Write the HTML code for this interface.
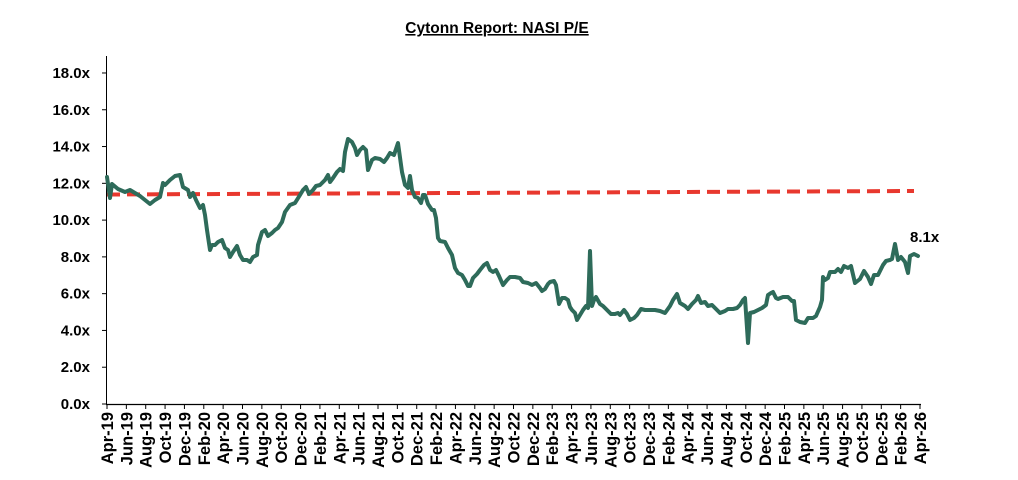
<!DOCTYPE html>
<html><head><meta charset="utf-8"><style>
html,body{margin:0;padding:0;background:#fff;}
svg{display:block;font-family:"Liberation Sans",sans-serif;font-weight:bold;}
</style></head><body>
<svg width="1018" height="480" viewBox="0 0 1018 480" xmlns="http://www.w3.org/2000/svg">
<text x="497" y="33" text-anchor="middle" font-size="15.5" text-decoration="underline">Cytonn Report: NASI P/E</text>
<line x1="106.5" y1="56" x2="106.5" y2="405" stroke="#000" stroke-width="1"/>
<line x1="106" y1="404.5" x2="921" y2="404.5" stroke="#000" stroke-width="1.2"/>
<g font-size="15" text-anchor="end" id="yl"></g>
<g id="yt" stroke="#000"></g>
<g id="xt" stroke="#000"></g>
<g id="xl" font-size="16.5"></g>
<line x1="107" y1="194.5" x2="914" y2="191" stroke="#e8382e" stroke-width="4" stroke-dasharray="13,7"/>
<polyline id="ln" fill="none" stroke="#2e6b5a" stroke-width="4" stroke-linejoin="round" stroke-linecap="round" points="107,177 110,198 112,184 118,189 125,192 130,190 135,193 140,196 145,200 150,204 155,200 160,197 163,183 165,185 170,180 175,176 180,175 183,187 188,190 190,197 193,193 196,200 200,208 203,205 205,215 207,230 210,250 212,245 215,245 218,242 222,240 225,248 228,250 230,257 233,252 237,246 240,255 243,260 247,260 250,262 253,257 257,255 258,245 262,232 265,230 268,236 272,233 275,230 278,228 282,222 285,212 290,205 295,203 300,195 303,190 306,187 309,194 313,190 316,186 320,185 325,180 328,175 330,182 333,178 337,172 340,169 343,171 345,152 348,139 352,142 355,148 357,155 360,150 363,147 366,150 368,170 372,160 375,158 380,159 384,162 387,158 390,153 394,155 398,143 402,172 405,185 408,188 410,176 412,190 415,197 418,198 421,203 423,195 425,195 428,204 432,210 434,210 436,218 438,238 440,241 445,242 448,248 452,255 455,268 458,273 462,275 465,280 468,286 470,286 473,278 477,274 480,270 484,265 487,263 490,270 493,272 496,270 499,276 503,285 507,280 510,277 515,277 520,278 523,282 528,283 532,285 536,283 540,288 542,291 545,289 548,284 550,282 554,281 556,285 559,304 562,298 565,298 568,300 570,307 572,310 575,313 577,320 580,315 583,310 586,306 588,308 590,251 592,306 594,300 596,297 600,304 603,306 607,310 611,314 615,314 618,313 620,315 624,310 627,314 630,320 634,318 637,315 641,309 645,310 650,310 655,310 660,311 665,313 670,306 673,300 677,294 680,303 685,306 688,309 692,304 696,300 698,296 701,303 705,302 708,306 712,305 716,309 720,313 725,311 728,309 733,309 737,308 740,305 743,300 745,298 748,343 750,313 754,312 758,310 762,308 766,305 768,295 771,293 773,292 776,298 778,299 783,297 788,297 792,301 794,301 796,320 800,322 805,323 808,318 813,318 816,316 820,307 822,300 823,277 825,280 828,278 830,272 835,272 838,269 841,272 844,266 848,268 851,266 855,283 860,279 864,271 868,277 871,284 874,275 878,275 880,271 883,265 886,261 890,260 892,259 895,244 898,260 901,257 905,262 908,273 910,256 914,254 918,256"/>
<text x="910" y="242" font-size="15">8.1x</text>
<script>
var ns="http://www.w3.org/2000/svg";
var yl=document.getElementById('yl'),yt=document.getElementById('yt');
for(var i=0;i<=9;i++){var v=i*2,y=404-18.39*v;
var t=document.createElementNS(ns,'text');t.setAttribute('x',90);t.setAttribute('y',y+5);t.textContent=v.toFixed(1)+'x';yl.appendChild(t);
var l=document.createElementNS(ns,'line');l.setAttribute('x1',102);l.setAttribute('x2',107);l.setAttribute('y1',y);l.setAttribute('y2',y);yt.appendChild(l);}
var m=['Apr','Jun','Aug','Oct','Dec','Feb'];var xt=document.getElementById('xt'),xl=document.getElementById('xl');
for(var k=0;k<=42;k++){var x=107+k*(813/42);var mi=k%6;var yr=19+Math.floor((k+1)/6);
var l=document.createElementNS(ns,'line');l.setAttribute('x1',x);l.setAttribute('x2',x);l.setAttribute('y1',404);l.setAttribute('y2',409);xt.appendChild(l);
var t=document.createElementNS(ns,'text');t.setAttribute('transform','translate('+(x+6)+',412) rotate(-90)');t.setAttribute('text-anchor','end');t.textContent=m[mi]+'-'+yr;xl.appendChild(t);}
</script>
</svg>
</body></html>
